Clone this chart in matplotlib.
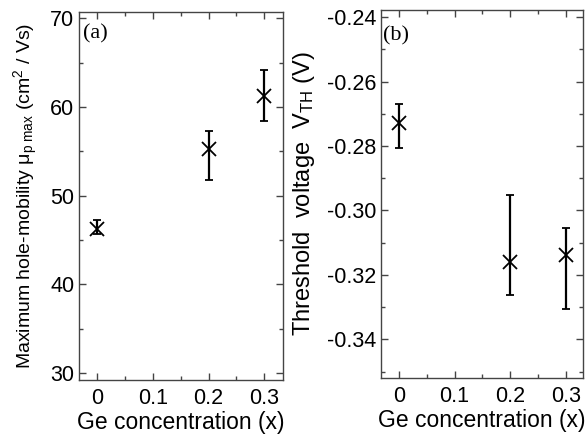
import matplotlib
matplotlib.use("Agg")
import matplotlib.pyplot as plt
from matplotlib.ticker import MultipleLocator

# Ge concentration
ge_x = [0.0, 0.2, 0.3]

# (a) maximum hole mobility (cm^2/Vs)
mobility = [46.2, 55.2, 61.2]
mobility_lo = [45.7, 51.7, 58.4]
mobility_hi = [47.2, 57.3, 64.2]

# (b) threshold voltage (V)
vth = [-0.2729, -0.3159, -0.3138]
vth_lo = [-0.2807, -0.3262, -0.3307]
vth_hi = [-0.2669, -0.2952, -0.3055]

plt.rcParams["font.family"] = ["Liberation Sans", "DejaVu Sans"]
plt.rcParams["mathtext.fontset"] = "custom"
plt.rcParams["mathtext.rm"] = "Liberation Sans"
plt.rcParams["mathtext.it"] = "Liberation Sans"

fig = plt.figure(figsize=(5.87, 4.4), dpi=100)
ax_a = fig.add_axes([79 / 587, 1 - 380 / 440, 204 / 587, 368 / 440])
ax_b = fig.add_axes([381 / 587, 1 - 378 / 440, 202 / 587, 368 / 440])

edge = "#444444"


def style_axes(ax):
    for s in ax.spines.values():
        s.set_color(edge)
        s.set_linewidth(1.0)
    ax.tick_params(which="both", direction="in", top=True, right=True,
                   color=edge, labelsize=15.5, width=1.0)
    ax.tick_params(which="major", length=5)
    ax.tick_params(which="minor", length=3)
    ax.tick_params(axis="x", pad=6)
    ax.set_xticks([0, 0.1, 0.2, 0.3])
    ax.set_xticklabels(["0", "0.1", "0.2", "0.3"])
    ax.xaxis.set_minor_locator(MultipleLocator(0.05))
    ax.set_xlabel("Ge concentration (x)", fontsize=16.5, labelpad=1)


def asym(vals, lo, hi):
    return [[v - l for v, l in zip(vals, lo)], [h - v for v, h in zip(vals, hi)]]


# panel (a)
ax_a.errorbar(ge_x, mobility, yerr=asym(mobility, mobility_lo, mobility_hi),
              fmt="x", color="black", ms=10, mew=1.3, elinewidth=1.6,
              capsize=3, capthick=1.6)
ax_a.set_xlim(-0.033, 0.334)
ax_a.set_ylim(29.2, 70.7)
ax_a.yaxis.set_major_locator(MultipleLocator(10))
ax_a.yaxis.set_minor_locator(MultipleLocator(5))
style_axes(ax_a)
ax_a.set_ylabel(r"Maximum hole-mobility $\mu_{\rm p\ max}$ (cm$^2$ / Vs)",
                fontsize=14, labelpad=7)
ax_a.text(0.02, 0.968, "(a)", transform=ax_a.transAxes, ha="left", va="top",
          fontsize=16, family="Liberation Serif")

# panel (b)
ax_b.errorbar(ge_x, vth, yerr=asym(vth, vth_lo, vth_hi),
              fmt="x", color="black", ms=10, mew=1.3, elinewidth=1.6,
              capsize=3, capthick=1.6)
ax_b.set_xlim(-0.0324, 0.331)
ax_b.set_ylim(-0.352, -0.2378)
ax_b.yaxis.set_major_locator(MultipleLocator(0.02))
ax_b.yaxis.set_minor_locator(MultipleLocator(0.01))
ax_b.yaxis.set_major_formatter(plt.FuncFormatter(lambda v, p: f"{v:.2f}"))
style_axes(ax_b)
ax_b.set_ylabel(r"Threshold  voltage  V$_{\rm TH}$ (V)", fontsize=17, labelpad=7)
ax_b.text(0.01, 0.955, "(b)", transform=ax_b.transAxes, ha="left", va="top",
          fontsize=16, family="Liberation Serif")

fig.savefig("out.png", dpi=100)
